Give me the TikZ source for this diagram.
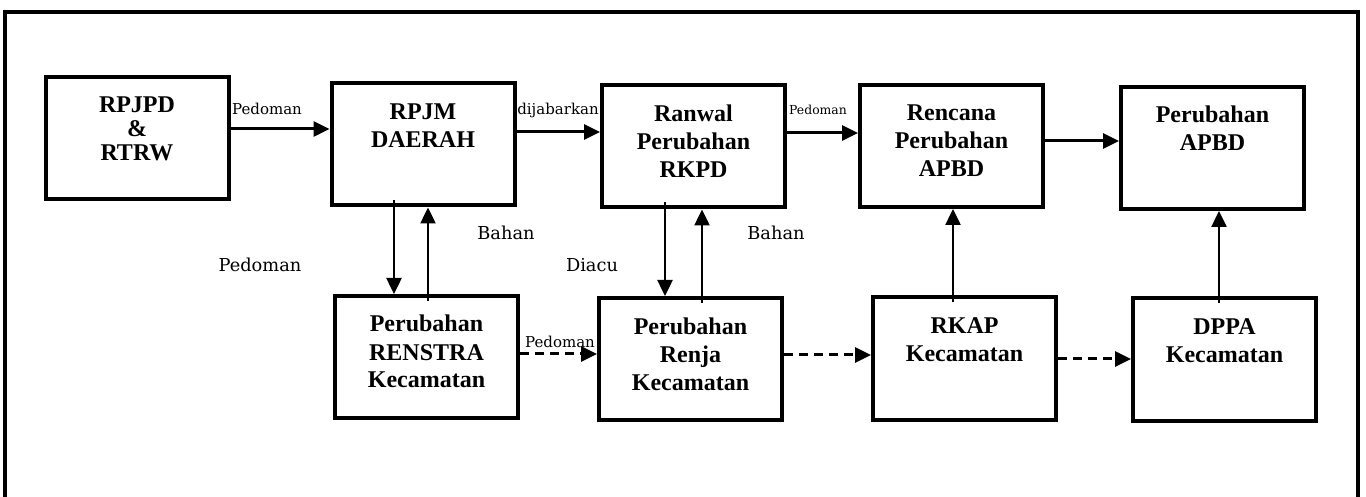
\documentclass[tikz,border=0pt]{standalone}
\usepackage{fontspec}
\setmainfont{Liberation Serif}
\newfontfamily\labelfont{DejaVu Serif}
\usepackage{tikz}
\usetikzlibrary{arrows.meta}
\usetikzlibrary{calc}
\newcommand{\boxtext}[1]{\parbox[c][61pt][t]{91.5pt}{\centering\rule{0pt}{18pt}#1}}

\begin{document}
\begin{tikzpicture}[
    x=0.5pt, y=-0.5pt,
    frame/.style={line width=1.75pt},
    box/.style={draw, line width=2pt, inner sep=0pt,
        font=\bfseries\fontsize{12}{14}\selectfont},
    arr/.style={-{Triangle[length=8pt,width=7.5pt]}, line width=1.5pt},
    varr/.style={arr, line width=1.25pt, shorten <=-3.5pt},
    darr/.style={arr, dash pattern=on 4.5pt off 3pt},
    lbl/.style={inner sep=0pt, font=\labelfont\fontsize{8.9}{10}\selectfont},
    small lbl/.style={lbl, font=\labelfont\fontsize{7.5}{9}\selectfont}
    ]
    \useasboundingbox (0,0) rectangle (1366,497);

    % frame
    \draw[frame] (5,497) -- (5,12) -- (1358,12) -- (1358,497);

    % top row
    \node[box] (rpjpd)   at (137,138)    {\boxtext{RPJPD\\[-2pt]\&\\[-2pt]RTRW}};
    \node[box] (rpjm)    at (423,144.5)  {\boxtext{RPJM\\DAERAH}};
    \node[box] (ranwal)  at (693.5,146.5){\boxtext{Ranwal\\Perubahan\\RKPD}};
    \node[box] (rencana) at (951.5,146)  {\boxtext{Rencana\\Perubahan\\APBD}};
    \node[box] (papbd)   at (1212.5,148) {\boxtext{Perubahan\\APBD}};
    % bottom row
    \node[box] (renstra) at (426.5,357)  {\boxtext{Perubahan\\RENSTRA\\Kecamatan}};
    \node[box] (renja)   at (690.5,359)  {\boxtext{Perubahan\\Renja\\Kecamatan}};
    \node[box] (rkap)    at (964.5,358.5){\boxtext{RKAP\\Kecamatan}};
    \node[box] (dppa)    at (1224.5,359.5){\boxtext{DPPA\\Kecamatan}};

    % top arrows
    \draw[arr] (rpjpd.east |- 0,129) -- (rpjm.west |- 0,129);
    \draw[arr] (rpjm.east |- 0,132) -- (ranwal.west |- 0,132);
    \draw[arr] (ranwal.east |- 0,133) -- (rencana.west |- 0,133);
    \draw[arr] (rencana.east |- 0,141) -- (papbd.west |- 0,141);
    % vertical arrows
    \draw[varr] (394,0 |- rpjm.south) -- (394,0 |- renstra.north);
    \draw[varr] (428,0 |- renstra.north) -- (428,0 |- rpjm.south);
    \draw[varr] (665,0 |- ranwal.south) -- (665,0 |- renja.north);
    \draw[varr] (702,0 |- renja.north) -- (702,0 |- ranwal.south);
    \draw[varr] (953,0 |- rkap.north) -- (953,0 |- rencana.south);
    \draw[varr] (1219,0 |- dppa.north) -- (1219,0 |- papbd.south);
    % dashed arrows
    \draw[darr] (renstra.east |- 0,354) -- (renja.west |- 0,354);
    \draw[darr] (renja.east |- 0,355) -- (rkap.west |- 0,355);
    \draw[darr] (rkap.east |- 0,359) -- (dppa.west |- 0,359);

    % labels
    \node[small lbl] (l1) at (267,109) {Pedoman};
    \node[small lbl] (l2) at (558,110) {dijabarkan};
    \node[lbl, font=\labelfont\fontsize{6.2}{8}\selectfont] (l3) at (818,110) {Pedoman};
    \node[lbl] (l4) at (506,233) {Bahan};
    \node[lbl] (l5) at (260,265) {Pedoman};
    \node[lbl] (l6) at (592,265) {Diacu};
    \node[lbl] (l7) at (776,233) {Bahan};
    \node[small lbl] (l8) at (560,342) {Pedoman};
\end{tikzpicture}
\end{document}
